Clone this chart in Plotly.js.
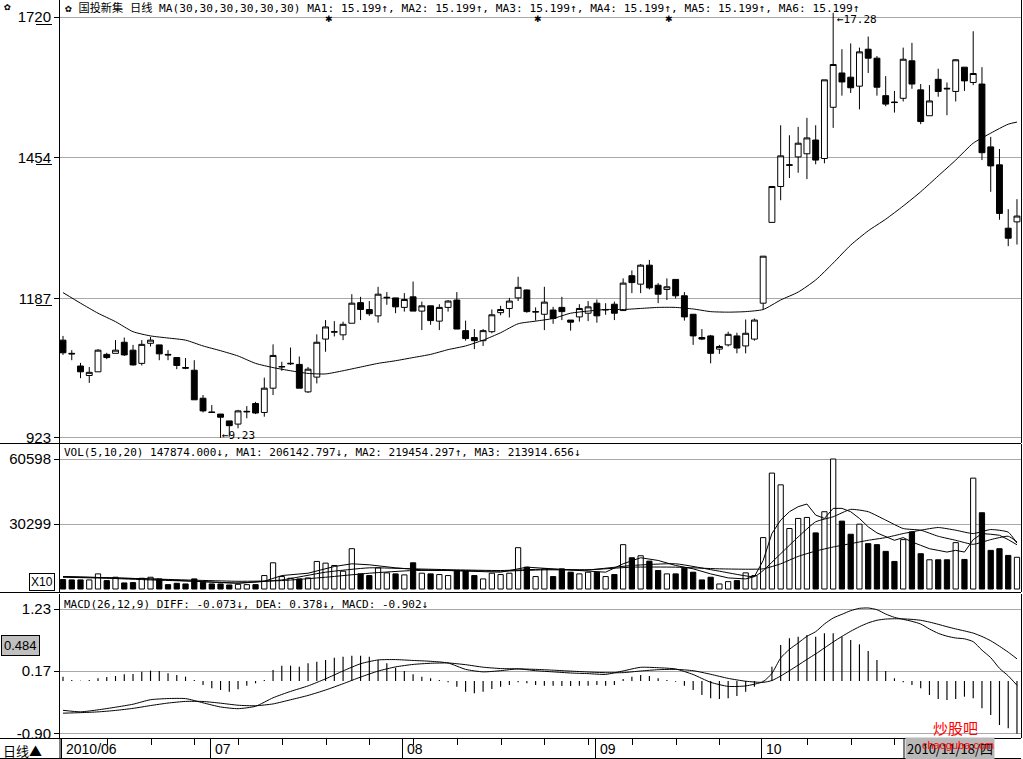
<!DOCTYPE html>
<html><head><meta charset="utf-8">
<script src="https://cdn.plot.ly/plotly-3.0.1.min.js"></script>
<style>html,body{margin:0;padding:0;background:#fff;}#chart{width:1023px;height:759px;}</style>
</head><body><div id="chart"></div>
<script>
// ---------- DATA ----------
const openP = [11.08,10.83,10.59,10.41,10.48,10.81,10.83,11.04,10.89,10.64,11.02,10.99,10.81,10.75,10.56,10.51,9.98,9.72,9.68,9.55,
9.49,9.72,9.88,9.71,10.17,10.57,10.63,10.62,10.10,10.38,11.10,11.23,11.18,11.40,11.79,11.66,11.54,11.88,11.88,11.70,
11.90,11.63,11.73,11.44,11.70,11.84,11.26,11.13,11.07,11.24,11.60,11.68,11.88,12.03,11.61,11.57,11.65,11.70,11.46,11.52,
11.59,11.78,11.65,11.76,11.64,12.30,12.14,12.50,12.12,12.04,12.23,11.92,11.57,11.13,11.16,10.91,10.99,11.16,10.97,11.10,
11.78,13.31,13.99,14.39,14.55,14.61,14.87,14.52,15.49,16.14,16.06,15.89,16.59,16.42,15.71,15.59,15.66,16.37,15.82,15.33,
16.02,15.85,15.79,16.25,15.96,15.93,14.74,14.40,13.20,13.32];
const highP = [11.16,10.89,10.65,10.57,10.91,10.84,11.08,11.13,10.99,11.08,11.14,10.99,10.89,10.76,10.74,10.70,10.04,9.85,9.68,9.55,
9.76,9.83,9.91,10.37,11.00,10.67,10.94,10.77,10.57,11.19,11.46,11.44,11.43,11.95,11.90,11.82,12.09,11.99,11.88,11.97,
12.19,11.81,11.73,11.76,11.84,11.99,11.45,11.29,11.29,11.66,11.73,11.88,12.28,12.04,11.70,12.09,11.71,11.90,11.46,11.76,
11.82,11.85,11.78,11.81,12.25,12.40,12.52,12.60,12.16,12.25,12.23,11.99,11.57,11.29,11.18,10.99,11.24,11.22,11.47,11.49,
12.67,14.00,15.15,14.96,15.12,15.29,15.15,16.01,17.28,16.59,16.70,16.62,16.83,16.46,16.08,15.80,16.62,16.71,15.93,15.91,
16.22,15.96,16.40,16.25,16.93,16.25,14.93,14.70,13.56,13.75];
const lowP = [10.80,10.70,10.36,10.27,10.48,10.72,10.83,10.78,10.60,10.60,10.96,10.70,10.70,10.53,10.53,9.95,9.71,9.70,9.23,9.25,
9.41,9.60,9.68,9.63,10.04,10.50,10.61,10.17,10.08,10.26,10.86,11.15,11.08,11.40,11.46,11.54,11.41,11.75,11.59,11.62,
11.63,11.27,11.37,11.27,11.62,11.29,11.07,10.91,10.97,11.21,11.55,11.51,11.82,11.60,11.45,11.27,11.39,11.46,11.26,11.43,
11.44,11.41,11.56,11.46,11.64,11.97,11.97,12.04,11.78,11.84,11.87,11.45,10.99,11.08,10.64,10.82,10.96,10.83,10.83,11.07,
11.66,13.30,13.73,14.15,14.25,14.13,14.41,14.43,15.10,15.71,15.76,15.45,16.14,15.71,15.51,15.39,15.60,15.84,15.17,15.33,
15.69,15.34,15.60,15.80,15.91,14.49,13.89,13.36,12.86,12.89];
const closeP = [10.84,10.82,10.48,10.47,10.89,10.75,10.89,10.80,10.61,11.00,11.08,10.82,10.80,10.60,10.55,9.95,9.74,9.71,9.62,9.46,
9.74,9.73,9.70,10.17,10.79,10.58,10.64,10.17,10.53,11.04,11.33,11.24,11.38,11.78,11.66,11.58,11.95,11.89,11.71,11.85,
11.63,11.73,11.45,11.70,11.82,11.29,11.11,11.07,11.26,11.56,11.66,11.82,12.08,11.62,11.62,11.80,11.49,11.62,11.42,11.68,
11.71,11.54,11.66,11.59,12.16,12.17,12.50,12.07,11.95,12.09,11.92,11.52,11.16,11.10,10.83,10.96,11.19,10.93,11.21,11.46,
12.67,13.99,14.57,14.40,14.81,14.91,14.49,16.01,16.30,15.97,15.86,16.54,16.42,15.87,15.55,15.58,16.40,15.93,15.22,15.61,
15.79,15.84,16.39,15.99,16.13,14.63,14.38,13.48,13.01,13.43];

// MA30 of price (read at these candle positions)
const ma30Idx = [0,2,4,6,8,10,12,14,16,18,20,22,24,26,28,30,32,34,36,38,40,42,44,46,48,50,52,54,56,58,60,62,64,66,68,70,72,74,76,78,80,82,84,86,88,90,92,94,96,98,100,102,104,106,108,109];
const ma30Val = [11.98,11.78,11.59,11.43,11.24,11.16,11.12,11.08,10.97,10.88,10.78,10.64,10.56,10.50,10.45,10.44,10.50,10.57,10.64,10.69,
10.75,10.81,10.90,10.97,11.08,11.22,11.39,11.44,11.49,11.59,11.63,11.66,11.66,11.68,11.70,11.70,11.67,11.62,11.61,11.62,
11.66,11.84,11.99,12.22,12.54,12.88,13.15,13.37,13.62,13.89,14.19,14.49,14.81,15.00,15.17,15.21];

// Volume (x10)
const volume = [4385,4228,4228,4228,7047,3915,5481,2819,2975,5011,5481,4698,2036,2662,2349,4698,3132,2349,2349,1879,
2192,2036,2036,6264,12215,5794,5011,4698,5168,12841,12058,10962,8300,18792,7047,6264,9866,7517,7047,6577,
12215,7360,7047,6734,6264,8613,8300,6264,4698,7360,6734,7360,19262,10179,5794,9396,5794,9396,7830,7047,
7830,7830,5794,6734,20671,14564,15503,12998,8613,7047,7047,9709,7830,4228,5481,2349,3445,3915,7517,6264,
23960,54027,48546,28188,32886,33356,26152,36018,60598,31633,25526,30224,21141,20671,17539,12841,23020,26622,16443,13624,
13624,13624,21611,13781,51678,35548,18009,18792,15660,14787];
const volMa5Idx = [0,5,10,15,20,23,25,28,31,33,35,38,41,44,47,50,53,56,59,62,64,66,68,70,72,74,76,78,79,80,81,82,83,84,85,86,87,88,89,90,91,92,93,94,95,96,97,98,99,100,101,102,103,104,105,106,107,108,109];
const volMa5 = [5794,5168,4698,3602,2662,3602,6264,7360,10492,11745,11275,9866,8926,8613,8300,7830,10179,9396,8613,7830,11745,14564,13311,10962,9396,7047,5168,4698,5794,13311,
25839,32103,36018,38367,39620,34452,32886,37584,37584,36018,32886,28971,26152,24586,22707,23960,21924,20358,18792,18009,17226,18009,17226,23020,25839,25526,25056,23020,20614];
const volMa10Idx = [0,5,10,15,20,25,30,35,40,45,50,55,60,65,70,75,79,80,82,84,86,88,90,92,94,96,98,100,102,104,106,108,109];
const volMa10 = [5481,5011,4228,3602,2819,4228,7830,9866,9396,8926,8613,9239,8926,10962,11745,8300,5794,8613,16443,24273,31320,33669,37114,36018,32103,28188,27405,24586,22707,20828,23020,24586,21945];
const volMa20Idx = [0,10,20,25,30,35,40,45,50,55,60,65,70,75,80,82,84,86,88,90,92,94,96,98,100,102,104,106,108,109];
const volMa20 = [5794,4698,3602,3915,5481,7360,8613,8613,8300,8926,8926,10179,10179,9396,9396,11745,15190,17696,19575,21141,22707,23960,25839,27405,28658,27405,25839,27718,26500,21391];

// MACD(26,12,9)
const macdHist = [0.074,0.017,0.006,0.017,0.046,0.068,0.085,0.114,0.120,0.160,0.177,0.171,0.131,0.103,0.074,0.017,-0.068,-0.125,-0.154,-0.182,
-0.142,-0.080,-0.040,0.017,0.188,0.262,0.262,0.245,0.302,0.330,0.359,0.399,0.416,0.433,0.433,0.416,0.359,0.302,0.228,0.171,
0.114,0.074,0.046,0.017,-0.023,-0.097,-0.182,-0.211,-0.182,-0.137,-0.097,-0.068,-0.023,-0.040,-0.068,-0.080,-0.080,-0.085,-0.085,-0.080,
-0.080,-0.068,-0.080,-0.068,0.034,0.074,0.103,0.085,0.046,0.017,-0.011,-0.080,-0.154,-0.239,-0.296,-0.308,-0.296,-0.256,-0.182,-0.097,
0.005,0.245,0.615,0.729,0.758,0.786,0.758,0.815,0.815,0.758,0.701,0.627,0.513,0.359,0.171,0.046,-0.023,-0.068,-0.125,-0.239,
-0.308,-0.325,-0.308,-0.268,-0.296,-0.467,-0.581,-0.752,-0.809,-0.902];
const lineIdx = [0,2,4,6,8,10,12,14,16,18,20,22,24,26,28,30,32,34,36,38,40,42,44,46,48,50,52,54,56,58,60,62,64,66,68,70,72,74,76,78,
80,81,82,83,84,85,86,87,88,89,90,91,92,93,94,95,96,97,98,99,100,101,102,103,104,105,106,107,108,109];
const diffVal = [-0.501,-0.527,-0.493,-0.448,-0.397,-0.320,-0.300,-0.301,-0.373,-0.444,-0.473,-0.432,-0.287,-0.178,-0.084,0.037,0.172,0.295,0.360,0.366,
0.351,0.337,0.308,0.199,0.156,0.176,0.207,0.176,0.156,0.137,0.126,0.113,0.172,0.234,0.227,0.205,0.111,-0.022,-0.092,-0.084,
-0.011,0.131,0.393,0.541,0.650,0.764,0.843,0.974,1.077,1.140,1.202,1.242,1.248,1.219,1.145,1.088,1.054,1.020,0.974,0.889,
0.815,0.766,0.735,0.721,0.672,0.527,0.399,0.217,0.088,-0.073];
const deaVal = [-0.550,-0.541,-0.528,-0.503,-0.468,-0.420,-0.377,-0.349,-0.350,-0.379,-0.414,-0.423,-0.392,-0.321,-0.247,-0.154,-0.047,0.067,0.169,0.241,
0.283,0.303,0.308,0.279,0.236,0.213,0.207,0.199,0.185,0.169,0.154,0.142,0.143,0.171,0.193,0.199,0.176,0.115,0.045,-0.004,
-0.023,0.008,0.085,0.176,0.271,0.369,0.463,0.565,0.667,0.762,0.850,0.928,0.993,1.038,1.059,1.064,1.062,1.053,1.038,1.007,
0.969,0.928,0.890,0.856,0.819,0.761,0.688,0.594,0.493,0.378];

const priceTicks = [17.20,14.54,11.87,9.23];
const priceTickText = ['1720','1454','1187','923'];
const volTicks = [60598,30299];
const volTickText = ['60598','30299'];
const macdTicks = [1.23,0.17,-0.90];
const macdTickText = ['1.23','0.17','-0.90'];
const monthLabels = ['2010/06','07','08','09','10'];
const monthStartIdx = [0,17,39,61,80];
const lastDate = '2010/11/18/四';

// ---------- LAYOUT HELPERS ----------
const W = 1023, H = 759, L = 60, R = 2, T = 0, B = 21;
const PW = W - L - R, PH = H - T - B;
const px = v => (v - L) / PW;
const py = v => 1 - (v - T) / PH;
const idx = openP.map((_, i) => i);
const mono = 'DejaVu Sans Mono, Noto Sans CJK SC, monospace';
const sans = 'Liberation Sans, Arial, sans-serif';

const volColors = idx.map(i => closeP[i] >= openP[i] ? '#ffffff' : '#000000');

const traces = [
  {type:'candlestick', x: idx, open: openP, high: highP, low: lowP, close: closeP, xaxis:'x', yaxis:'y',
   increasing:{line:{color:'#000', width:1}, fillcolor:'#ffffff'},
   decreasing:{line:{color:'#000', width:1}, fillcolor:'#000000'},
   whiskerwidth:0, hoverinfo:'skip'},
  {type:'scatter', mode:'lines', x: ma30Idx, y: ma30Val, xaxis:'x', yaxis:'y', line:{color:'#000', width:1, shape:'spline', smoothing:0.6}, hoverinfo:'skip'},
  {type:'bar', x: idx, y: volume, xaxis:'x', yaxis:'y2', width:0.6,
   marker:{color: volColors, line:{color:'#000', width:1}}, hoverinfo:'skip'},
  {type:'scatter', mode:'lines', x: volMa5Idx, y: volMa5, xaxis:'x', yaxis:'y2', line:{color:'#000', width:1}, hoverinfo:'skip'},
  {type:'scatter', mode:'lines', x: volMa10Idx, y: volMa10, xaxis:'x', yaxis:'y2', line:{color:'#000', width:1, shape:'spline', smoothing:0.5}, hoverinfo:'skip'},
  {type:'scatter', mode:'lines', x: volMa20Idx, y: volMa20, xaxis:'x', yaxis:'y2', line:{color:'#000', width:1, shape:'spline', smoothing:0.5}, hoverinfo:'skip'},
  {type:'bar', x: idx, y: macdHist, xaxis:'x', yaxis:'y3', width:0.13, marker:{color:'#000', line:{width:0}}, hoverinfo:'skip'},
  {type:'scatter', mode:'lines', x: lineIdx, y: diffVal, xaxis:'x', yaxis:'y3', line:{color:'#000', width:1, shape:'spline', smoothing:0.6}, hoverinfo:'skip'},
  {type:'scatter', mode:'lines', x: lineIdx, y: deaVal, xaxis:'x', yaxis:'y3', line:{color:'#000', width:1, shape:'spline', smoothing:0.6}, hoverinfo:'skip'}
];

const yBase = {showgrid:true, gridcolor:'#a8a8a8', gridwidth:1, zeroline:false, showline:true, linecolor:'#000', linewidth:1, mirror:true,
  ticks:'outside', ticklen:5, tickcolor:'#000', tickfont:{family:sans, size:15, color:'#000'}, fixedrange:true};

const annotations = [];
function txt(text, x, y, opts) {
  annotations.push(Object.assign({text, x: px(x), y: py(y), xref:'paper', yref:'paper', showarrow:false,
    xanchor:'left', yanchor:'middle', font:{family:mono, size:11, color:'#000'}}, opts || {}));
}
txt('✿ 国投新集 日线 MA(30,30,30,30,30,30) MA1: 15.199↑, MA2: 15.199↑, MA3: 15.199↑, MA4: 15.199↑, MA5: 15.199↑, MA6: 15.199↑', 63, 8, {font:{family:mono, size:11.2, color:'#000'}});
txt('✿', 2, 7);
txt('VOL(5,10,20) 147874.000↓, MA1: 206142.797↓, MA2: 219454.297↑, MA3: 213914.656↓', 62, 452);
txt('MACD(26,12,9) DIFF: -0.073↓, DEA: 0.378↓, MACD: -0.902↓', 62, 604);
['✱','✱','✱'].forEach((s, k) => txt(s, [323, 532, 663][k], 19, {font:{family:sans, size:9, color:'#000'}}));
// price extremes
annotations.push({text:'←17.28', x: 88, y: 17.15, xref:'x', yref:'y', showarrow:false, xanchor:'left', yanchor:'middle', font:{family:mono, size:11, color:'#000'}, xshift:2});
annotations.push({text:'←9.23', x: 18, y: 9.27, xref:'x', yref:'y', showarrow:false, xanchor:'left', yanchor:'middle', font:{family:mono, size:11, color:'#000'}, xshift:-1});
// left boxes
txt('X10', 29, 582, {font:{family:sans, size:12, color:'#000'}, bordercolor:'#000', borderwidth:1, borderpad:1});
txt('0.484', 1, 645, {font:{family:sans, size:13, color:'#000'}, bgcolor:'#c0c0c0', bordercolor:'#000', borderwidth:1, borderpad:2});
// date strip
const xOf = i => L + (i + 0.343) / (109.46 + 0.343) * PW;
monthLabels.forEach((m, k) => txt(m, xOf(monthStartIdx[k]) + 1, 749, {font:{family:sans, size:14, color:'#000'}}));
txt('日线▲', 1, 750, {font:{family:'Noto Sans CJK SC, sans-serif', size:13, color:'#000'}});
txt(lastDate, 905, 749, {font:{family:'Noto Sans CJK SC, sans-serif', size:13, color:'#000'}, bgcolor:'#b8b8b8', borderpad:1});
txt('炒股吧', 931, 727, {font:{family:'Noto Sans CJK SC, sans-serif', size:15, color:'#ff0000'}});
txt('chaoguba.com', 920, 745, {font:{family:sans, size:11, color:'#ff0000'}});

const shapes = [];
function hline(y, x0, x1, color) {
  shapes.push({type:'line', xref:'paper', yref:'paper', x0: px(x0), x1: px(x1), y0: py(y), y1: py(y), line:{color: color || '#000', width:1}});
}
function vline(x, y0, y1) {
  shapes.push({type:'line', xref:'paper', yref:'paper', x0: px(x), x1: px(x), y0: py(y0), y1: py(y1), line:{color:'#000', width:1}});
}
hline(443.5, 0, 1021);
hline(592.5, 0, 1021);
hline(738.5, 0, 1021);
hline(758.5, 0, 1021);
vline(60, 738, 759);
// underline of the last two digits of the price tick labels
[[24.5, 36, 52], [164.5, 36, 52], [305.5, 36, 52]].forEach(u => hline(u[0], u[1], u[2]));
// month separators and weekly ticks on date strip
monthStartIdx.forEach(i => vline(Math.round(xOf(i)) - 1.5, 739, 759));
vline(904, 739, 759);
for (let i = 0; i < 110; i += 5) { if (!monthStartIdx.includes(i)) vline(Math.round(xOf(i)) + 0.5, 739, 745); }

const layout = {
  width: W, height: H, margin:{l:L, r:R, t:T, b:B}, paper_bgcolor:'#fff', plot_bgcolor:'#fff',
  showlegend:false, hovermode:false, barmode:'overlay', boxgap:0.18, boxgroupgap:0.18,
  xaxis:{range:[-0.343, 109.46], showticklabels:false, showgrid:false, zeroline:false, showline:false, ticks:'', anchor:'y3', fixedrange:true, rangeslider:{visible:false}},
  yaxis: Object.assign({}, yBase, {domain:[py(443), 1], range:[17.20 - (443-17)/52.8, 17.20 + 17/52.8], tickvals: priceTicks, ticktext: priceTickText}),
  yaxis2: Object.assign({}, yBase, {domain:[py(592), py(444)], range:[(589-592)/130*60598, (589-444)/130*60598], tickvals: volTicks, ticktext: volTickText}),
  yaxis3: Object.assign({}, yBase, {domain:[0, py(594)], range:[(681-738)/58.5, (681-594)/58.5], tickvals: macdTicks, ticktext: macdTickText}),
  annotations, shapes
};
Plotly.newPlot('chart', traces, layout, {staticPlot:true, displayModeBar:false});
</script></body></html>
